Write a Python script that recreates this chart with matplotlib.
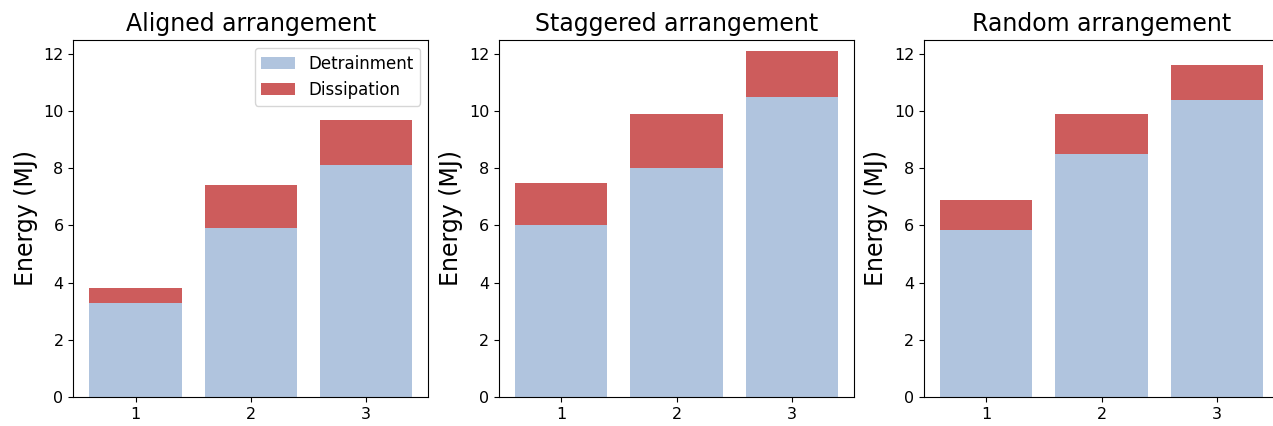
import matplotlib
matplotlib.use("Agg")
import matplotlib.pyplot as plt

# ============================================================
# DADOS
# ============================================================

casos = [1, 2, 3]

titulos = ["Aligned arrangement", "Staggered arrangement", "Random arrangement"]

detrainment = [
    [3.3, 5.9, 8.1],
    [6.0, 8.0, 10.5],
    [5.85, 8.5, 10.4],
]

total = [
    [3.8, 7.4, 9.7],
    [7.5, 9.9, 12.1],
    [6.9, 9.9, 11.6],
]

dissipation = [
    [t - d for t, d in zip(tt, dd)] for tt, dd in zip(total, detrainment)
]

# ============================================================
# FIGURA
# ============================================================

fig = plt.figure(figsize=(12.73, 4.26), dpi=100)

lefts = [0.0576, 0.392, 0.7259]

for i in range(3):

    ax = fig.add_axes([lefts[i], 0.0681, 0.2789, 0.8387])

    ax.bar(casos, detrainment[i], width=0.8,
           color="lightsteelblue", label="Detrainment")
    ax.bar(casos, dissipation[i], width=0.8, bottom=detrainment[i],
           color="indianred", label="Dissipation")

    ax.set_ylim(0, 12.5)
    ax.set_xticks(casos)
    ax.tick_params(labelsize=11.5)
    ax.set_title(titulos[i], fontsize=17)
    ax.set_ylabel("Energy (MJ)", fontsize=17)

    if i == 0:
        ax.legend(loc="upper right", fontsize=12)

plt.savefig("out.png", dpi=100)
plt.close()
